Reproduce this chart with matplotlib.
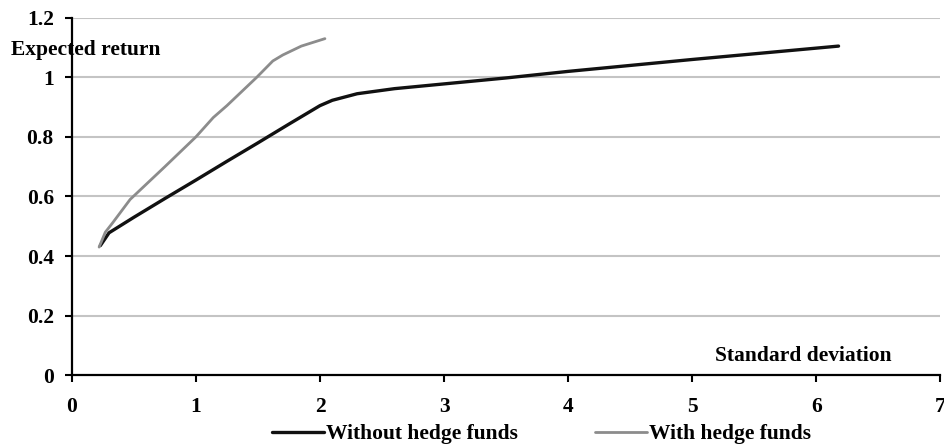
import matplotlib.pyplot as plt

plt.rcParams['font.family'] = ['Liberation Serif', 'DejaVu Serif']

# efficient frontier without hedge funds (std dev, expected return)
without_sd = [0.23, 0.30, 0.50, 0.75, 1.00, 1.25, 1.50, 1.75, 2.00, 2.10, 2.30, 2.60, 3.00, 3.50, 4.00, 5.00, 6.18]
without_ret = [0.435, 0.478, 0.530, 0.593, 0.655, 0.718, 0.780, 0.843, 0.905, 0.923, 0.945, 0.962, 0.978, 0.998, 1.020, 1.060, 1.105]

# efficient frontier with hedge funds
with_sd = [0.22, 0.27, 0.33, 0.47, 0.75, 1.00, 1.14, 1.25, 1.49, 1.62, 1.70, 1.85, 2.04]
with_ret = [0.430, 0.480, 0.512, 0.590, 0.700, 0.800, 0.865, 0.905, 1.000, 1.055, 1.075, 1.105, 1.130]

x_ticks = [0, 1, 2, 3, 4, 5, 6, 7]
y_ticks = [0, 0.2, 0.4, 0.6, 0.8, 1.0, 1.2]
y_labels = ['0', '0.2', '0.4', '0.6', '0.8', '1', '1.2']

fs = 15.5
fw = 'bold'

fig = plt.figure(figsize=(9.45, 4.45), dpi=100)
ax = fig.add_axes([0.076, 0.157, 0.919, 0.803])

for y in y_ticks[1:]:
    ax.axhline(y, color='#c4c4c4', lw=1.5, zorder=0)

ax.plot(without_sd, without_ret, color='#111111', lw=2.4, label='Without hedge funds', solid_capstyle='round')
ax.plot(with_sd, with_ret, color='#8c8c8c', lw=2.0, label='With hedge funds', solid_capstyle='round')

ax.set_xlim(0, 7)
ax.set_ylim(0, 1.2)
ax.set_xticks(x_ticks)
ax.set_xticklabels([str(t) for t in x_ticks], fontweight=fw)
ax.set_yticks(y_ticks)
ax.set_yticklabels(y_labels, fontweight=fw)
ax.tick_params(labelsize=fs, width=1.5, length=5, colors='black')
ax.tick_params(axis='x', pad=11)
ax.tick_params(axis='y', pad=8)

for s in ['top', 'right']:
    ax.spines[s].set_visible(False)
for s in ['left', 'bottom']:
    ax.spines[s].set_linewidth(1.6)
ax.spines['left'].set_zorder(5)
ax.spines['bottom'].set_zorder(5)

fig.text(11 / 945, 1 - 50 / 445, 'Expected return', fontsize=fs, fontweight=fw, va='center', ha='left')
ax.text(5.9, 0.064, 'Standard deviation', fontsize=fs, fontweight=fw, ha='center', va='center')

ax.legend(loc='center', bbox_to_anchor=(0.541, -0.165), ncol=2, frameon=False,
          prop={'size': fs, 'weight': fw},
          handlelength=2.4, handletextpad=0.1, columnspacing=3.6)

fig.savefig('out.png', dpi=100)
